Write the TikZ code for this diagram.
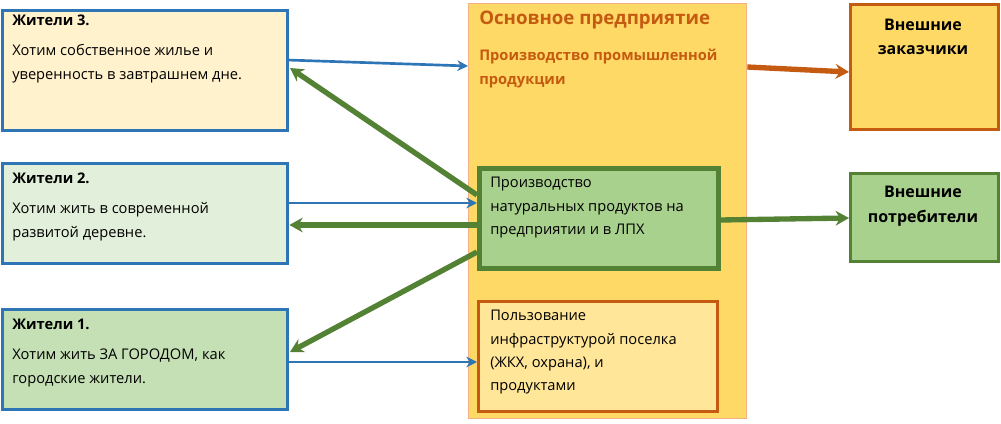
\documentclass[tikz,border=0pt]{standalone}
\usepackage{fontspec}
\setmainfont{Open Sans}
\usetikzlibrary{arrows.meta}
\definecolor{bl}{HTML}{2E75B6}
\definecolor{gr}{HTML}{548235}
\definecolor{og}{HTML}{C55A11}
\definecolor{c3}{HTML}{FFF2CC}
\definecolor{c2}{HTML}{E2EFDA}
\definecolor{c1}{HTML}{C5E0B4}
\definecolor{mo}{HTML}{F4B183}
\definecolor{my}{HTML}{FFD966}
\definecolor{lg}{HTML}{A9D18E}
\definecolor{ly}{HTML}{FFE699}
\tikzset{
 box/.style={draw, line width=2.5pt, anchor=north west, inner sep=0pt},
 txt/.style={anchor=north west, align=left, font=\fontsize{11}{17.5}\selectfont, inner sep=0pt},
 barr/.style={draw=bl, line width=2pt, -{Stealth[length=8pt,width=8pt]}},
 garr/.style={draw=gr, line width=4pt, -{Stealth[length=10pt,width=11pt]}},
 oarr/.style={draw=og, line width=4pt, -{Stealth[length=10pt,width=11pt]}},
}
\begin{document}
\begin{tikzpicture}[x=0.75pt,y=-0.75pt]
\useasboundingbox (0,0) rectangle (1001,424);
\node[box, draw=bl, fill=c3, minimum width=0.75*285pt, minimum height=0.75*120pt] (r3) at (1,9) {};
\node[box, draw=bl, fill=c2, minimum width=0.75*285pt, minimum height=0.75*100pt] (r2) at (1,162) {};
\node[box, draw=bl, fill=c1, minimum width=0.75*285pt, minimum height=0.75*100pt] (r1) at (1,308) {};
\node[box, draw=mo, line width=1pt, fill=my, minimum width=0.75*278pt, minimum height=0.75*415pt] (m) at (468,3) {};
\node[box, draw=gr, line width=3.5pt, fill=lg, minimum width=0.75*239pt, minimum height=0.75*100pt] (g) at (477,166) {};
\node[box, draw=og, line width=2pt, fill=ly, minimum width=0.75*239pt, minimum height=0.75*110pt] (o) at (477,300) {};
\node[box, draw=og, fill=my, minimum width=0.75*148pt, minimum height=0.75*125pt] (ez) at (849,3) {};
\node[box, draw=gr, fill=lg, minimum width=0.75*148pt, minimum height=0.75*88pt] (ep) at (849,172) {};

\node[txt] (t3) at (12,15) {\textbf{Жители 3.}\\[5pt]Хотим собственное жилье и\\уверенность в завтрашнем дне.};
\node[txt] (t2) at (12,173) {\textbf{Жители 2.}\\[5pt]Хотим жить в современной\\развитой деревне.};
\node[txt] (t1) at (12,319) {\textbf{Жители 1.}\\[5pt]Хотим жить ЗА ГОРОДОМ, как\\городские жители.};
\node[txt, text=og, font=\fontsize{14}{17}\selectfont\bfseries] (mt) at (479,11) {Основное предприятие};
\node[txt, text=og, font=\fontsize{11}{17.5}\selectfont\bfseries] (ms) at (479,49) {Производство промышленной\\продукции};
\node[txt] (gt) at (490,177) {Производство\\натуральных продуктов на\\предприятии и в ЛПХ};
\node[txt] (ot) at (490,310) {Пользование\\инфраструктурой поселка\\(ЖКХ, охрана), и\\продуктами};
\node[font=\fontsize{12}{18.5}\selectfont\bfseries, align=center] (ezt) at (923,37) {Внешние\\заказчики};
\node[font=\fontsize{12}{18.5}\selectfont\bfseries, align=center] (ept) at (923,206) {Внешние\\потребители};

\coordinate (a1) at (287,60); \coordinate (a2) at (468,66);
\draw[barr] (a1) -- (a2);
\draw[barr] (r2.east |- 0,203) -- (g.west |- 0,203);
\draw[barr] (r1.east |- 0,362) -- (o.west |- 0,362);
\draw[garr] (477,195) -- (290,68);
\draw[garr] (g.west |- 0,225) -- (r2.east |- 0,225);
\draw[garr] (477,252) -- (290,352);
\draw[garr] (g.east |- 0,220) -- (ep.west |- 0,218);
\draw[oarr] (m.east |- 0,67) -- (ez.west |- 0,72);
\end{tikzpicture}
\end{document}
